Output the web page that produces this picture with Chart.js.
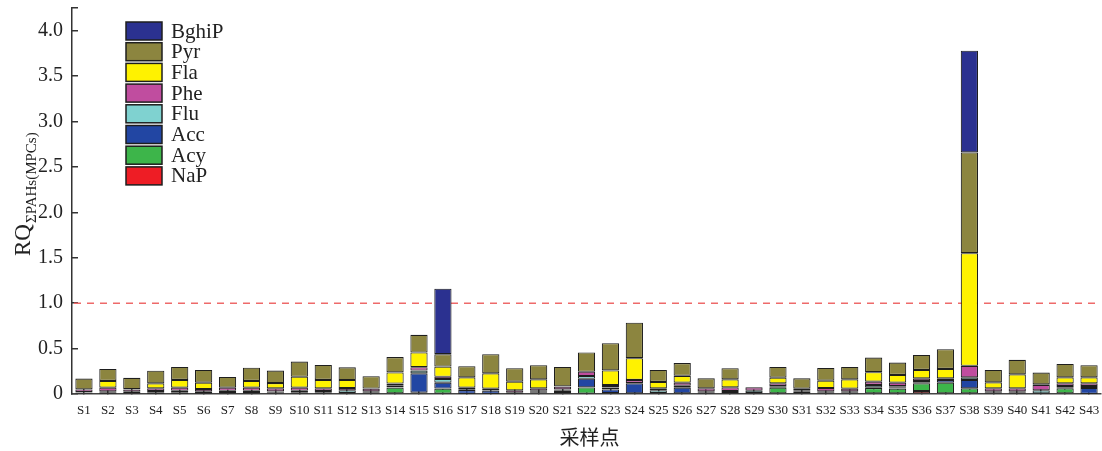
<!DOCTYPE html>
<html>
<head>
<meta charset="utf-8">
<script src="https://cdn.jsdelivr.net/npm/chart.js@4/dist/chart.umd.min.js"></script>
<style>
  html, body { margin: 0; padding: 0; background: #fff; }
  #wrap { width: 1102px; height: 451px; }
</style>
</head>
<body>
<div id="wrap"><canvas id="rqChart" width="1102" height="451"></canvas></div>
<script>
// sampling sites
var sites = ['S1','S2','S3','S4','S5','S6','S7','S8','S9','S10','S11','S12','S13','S14','S15',
  'S16','S17','S18','S19','S20','S21','S22','S23','S24','S25','S26','S27','S28','S29','S30',
  'S31','S32','S33','S34','S35','S36','S37','S38','S39','S40','S41','S42','S43'];

// RQ of each PAH, stacked from the bottom (NaP) to the top (BghiP)
var nap = [0.005,0.003,0,0.003,0.003,0.003,0,0,0,0,0,0,0,0,0.015,0.005,0,0,0,0.01,0.005,0.005,
  0.005,0.005,0,0.005,0.005,0,0,0,0.005,0,0,0,0,0.033,0,0,0,0,0,0,0];
var acy = [0,0.005,0.005,0.005,0.005,0.005,0.005,0.005,0.005,0.005,0.005,0.005,0.005,0.07,0,0.055,
  0.003,0.003,0.003,0.005,0.005,0.067,0.005,0.003,0.005,0.002,0.005,0.005,0.005,0.07,0.005,0.005,
  0.005,0.065,0.06,0.085,0.125,0.063,0.005,0.005,0.003,0.063,0.003];
var acc = [0.01,0.007,0.005,0.012,0.007,0.015,0.005,0.005,0.008,0.01,0.01,0.006,0.01,0.005,0.213,
  0.065,0.04,0.035,0.005,0.01,0.025,0.096,0.04,0.11,0.005,0.063,0.01,0.005,0.005,0.01,0.015,0.01,
  0.01,0.009,0.01,0.01,0.03,0.092,0.01,0.01,0.005,0.01,0.063];
var flu = [0.005,0.015,0.015,0.012,0.02,0.007,0.025,0.025,0.015,0.02,0.018,0.03,0.015,0.015,0.03,
  0.04,0.005,0.005,0.005,0.01,0.015,0.03,0.022,0.004,0.03,0.022,0.01,0.023,0.027,0.008,0.01,0.015,
  0.014,0.026,0.016,0.016,0.01,0.029,0.014,0.014,0.032,0.015,0.022];
var phe = [0.03,0.04,0.025,0.03,0.035,0.025,0.035,0.035,0.035,0.035,0.03,0.025,0.03,0.025,0.037,
  0.025,0.022,0.016,0.027,0.028,0.03,0.047,0.026,0.033,0.023,0.033,0.033,0.041,0.037,0.03,0.024,
  0.036,0.03,0.036,0.039,0.029,0.008,0.126,0.034,0.034,0.06,0.03,0.03];
var fla = [0,0.074,0.003,0.055,0.085,0.07,0,0.074,0.057,0.12,0.092,0.088,0,0.122,0.162,0.112,0.114,
  0.169,0.096,0.099,0.003,0,0.162,0.239,0.07,0.075,0,0.088,0,0.062,0,0.081,0.103,0.104,0.085,0.092,
  0.103,1.24,0.066,0.154,0.007,0.066,0.066];
var pyr = [0.12,0.132,0.125,0.14,0.143,0.14,0.118,0.146,0.138,0.167,0.165,0.14,0.136,0.17,0.195,
  0.136,0.122,0.21,0.148,0.155,0.215,0.213,0.3,0.391,0.132,0.14,0.11,0.122,0,0.118,0.114,0.14,0.136,
  0.161,0.136,0.165,0.218,1.11,0.136,0.159,0.129,0.147,0.133];
var bghip = [0,0,0,0,0,0,0,0,0,0,0,0,0,0,0,0.722,0,0,0,0,0,0,0,0,0,0,0,0,0,0,0,0,0,0,0,0,0,1.12,
  0,0,0,0,0];

var yTicks = [0, 0.5, 1.0, 1.5, 2.0, 2.5, 3.0, 3.5, 4.0, 4.25];
var threshold = 1.0;

var serif = '"Liberation Serif", "DejaVu Serif", serif';

function series(label, data, color) {
  return {
    label: label, data: data, backgroundColor: color,
    borderColor: '#1e1e1e', borderWidth: 1.1, borderSkipped: false,
    barPercentage: 0.72, categoryPercentage: 1.0
  };
}

// legend, threshold line and axis titles
var extras = {
  id: 'extras',
  beforeDatasetsDraw: function (chart) {
    var ctx = chart.ctx, y = chart.scales.y, a = chart.chartArea;
    var py = y.getPixelForValue(threshold);
    ctx.save();
    ctx.strokeStyle = '#ee6a6a';
    ctx.lineWidth = 1.5;
    ctx.setLineDash([7, 6]);
    ctx.beginPath();
    ctx.moveTo(a.left + 2, py);
    ctx.lineTo(a.right, py);
    ctx.stroke();
    ctx.restore();
  },
  afterDraw: function (chart) {
    var ctx = chart.ctx, a = chart.chartArea;
    ctx.save();
    // legend, top entry first
    var ds = chart.data.datasets.slice().reverse();
    ctx.font = '21px ' + serif;
    ctx.textBaseline = 'middle';
    ds.forEach(function (d, i) {
      var cy = 31 + i * 20.7;
      ctx.fillStyle = d.backgroundColor;
      ctx.fillRect(126, cy - 9, 36, 18);
      ctx.strokeStyle = '#1e1e1e';
      ctx.lineWidth = 1.5;
      ctx.strokeRect(126, cy - 9, 36, 18);
      ctx.fillStyle = '#222';
      ctx.fillText(d.label, 171, cy + 1);
    });

    // y title with subscript
    ctx.translate(30, 256);
    ctx.rotate(-Math.PI / 2);
    ctx.textBaseline = 'alphabetic';
    ctx.fillStyle = '#222';
    ctx.font = '23px ' + serif;
    ctx.fillText('RQ', 0, 0);
    var w = ctx.measureText('RQ').width;
    ctx.font = '15px ' + serif;
    ctx.fillText('\u03a3PAHs(MPCs)', w + 1, 6);
    ctx.restore();

    // x title
    ctx.save();
    ctx.fillStyle = '#222';
    ctx.font = '20px "Noto Sans CJK SC", sans-serif';
    ctx.textAlign = 'center';
    ctx.textBaseline = 'middle';
    ctx.fillText('采样点', (a.left + a.right) / 2 + 3, 437);
    ctx.restore();
  }
};

new Chart(document.getElementById('rqChart'), {
  type: 'bar',
  data: {
    labels: sites,
    datasets: [
      series('NaP', nap, '#ee1d25'),
      series('Acy', acy, '#3db54a'),
      series('Acc', acc, '#2246a3'),
      series('Flu', flu, '#7fd2d0'),
      series('Phe', phe, '#c04d9f'),
      series('Fla', fla, '#fff200'),
      series('Pyr', pyr, '#8c853f'),
      series('BghiP', bghip, '#2b3190')
    ]
  },
  options: {
    responsive: false,
    animation: false,
    layout: { padding: { top: 8, right: 1, left: 0, bottom: 0 } },
    plugins: { legend: { display: false }, tooltip: { enabled: false } },
    scales: {
      x: {
        stacked: true,
        afterFit: function (s) { s.height = 57; s.paddingLeft = 0; s.paddingRight = 0; },
        border: { color: '#444', width: 1.5 },
        grid: { drawOnChartArea: false, offset: false, tickLength: -5, color: '#444', lineWidth: 1.5 },
        ticks: {
          autoSkip: false, maxRotation: 0, minRotation: 0, padding: 14,
          color: '#222', font: { family: serif, size: 13 }
        }
      },
      y: {
        stacked: true,
        min: 0,
        max: 4.25,
        afterFit: function (s) { s.width = 72; s.paddingTop = 0; s.paddingBottom = 0; },
        afterBuildTicks: function (s) {
          s.ticks = yTicks.map(function (v) { return { value: v }; });
        },
        border: { color: '#333', width: 1.5 },
        grid: { drawOnChartArea: false, tickLength: -6, color: '#333', lineWidth: 1.5 },
        ticks: {
          padding: 15, color: '#222', font: { family: serif, size: 20 },
          callback: function (v) {
            if (v === 4.25) return '';
            return v === 0 ? '0' : v.toFixed(1);
          }
        }
      }
    }
  },
  plugins: [extras]
});
</script>
</body>
</html>
